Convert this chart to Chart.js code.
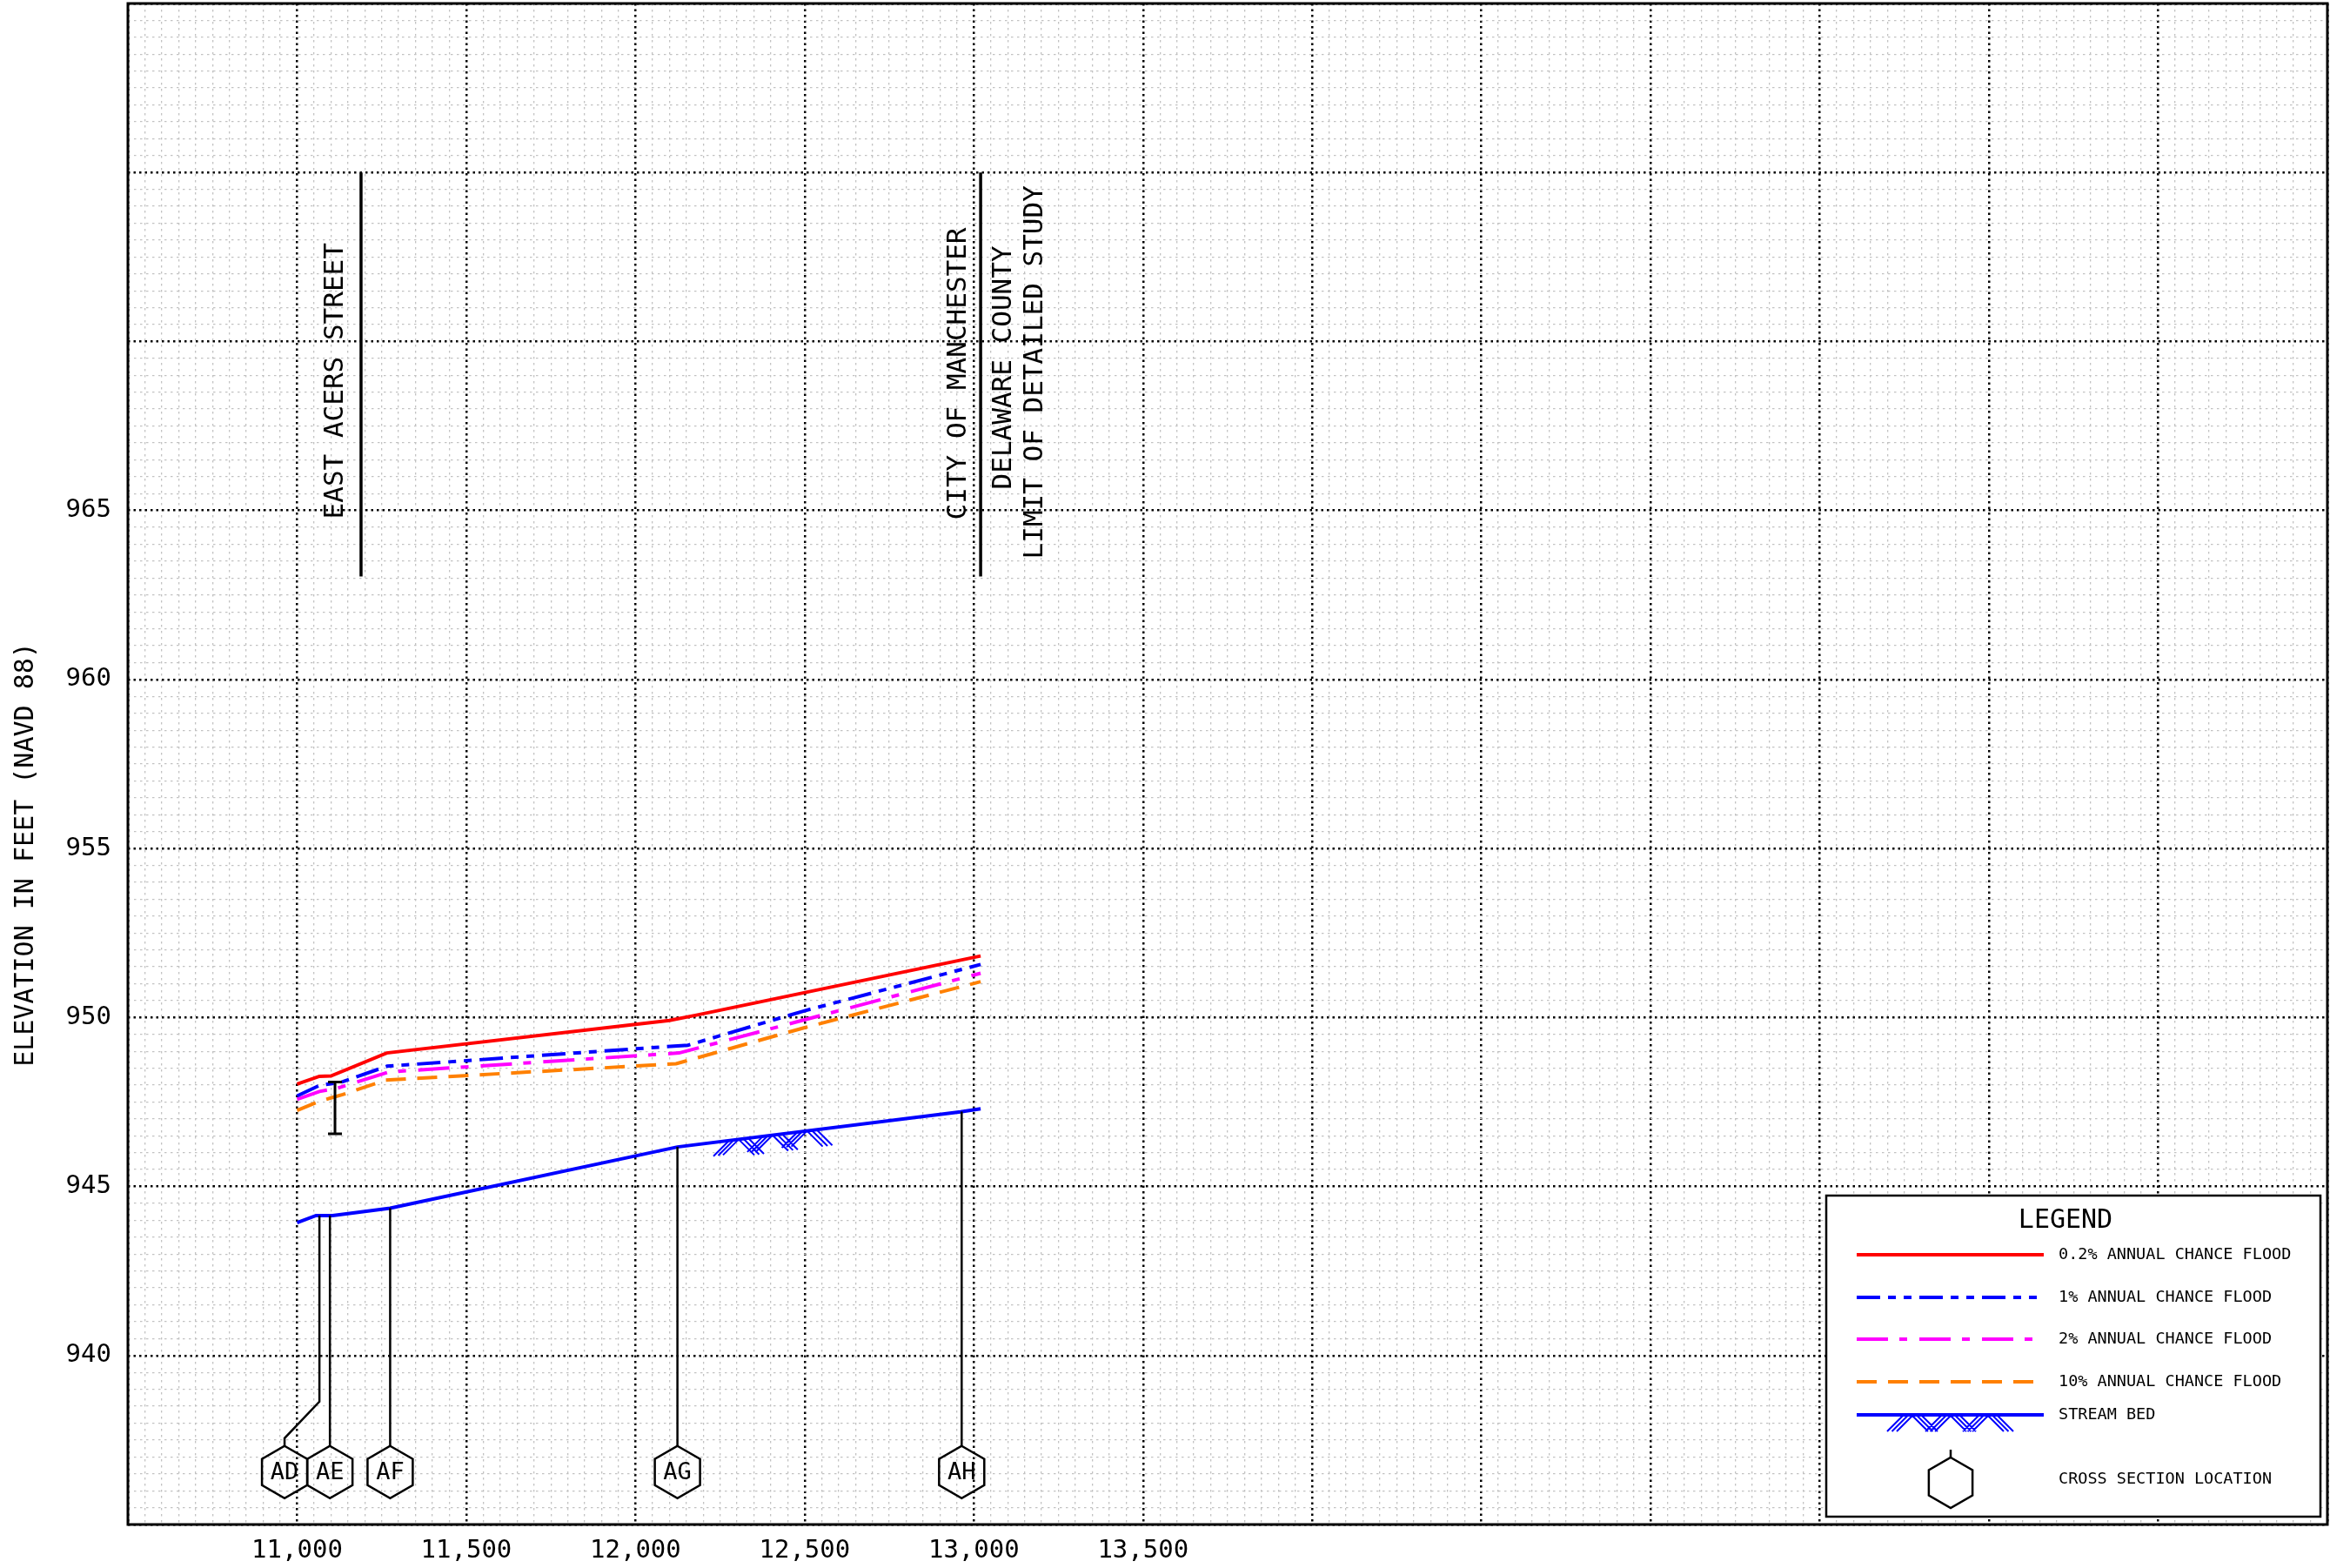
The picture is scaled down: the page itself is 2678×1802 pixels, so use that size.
<!DOCTYPE html>
<html>
<head>
<meta charset="utf-8">
<title>Flood profile</title>
<script src="https://cdn.jsdelivr.net/npm/chart.js@4.4.1/dist/chart.umd.min.js"></script>
<style>
  body { margin: 0; background: #fff; }
</style>
</head>
<body>
<canvas id="profile" width="2678" height="1802"></canvas>
<script>
// stream distance (ft) and elevation (ft NAVD 88)
const flood02_station = [11000, 11066, 11100, 11265, 12100, 12180, 13020];
const flood02_elev    = [948.03, 948.26, 948.27, 948.95, 949.91, 950.07, 951.82];

const flood1_station = [11000, 11066, 11100, 11135, 11266, 12155, 12500, 13020];
const flood1_elev    = [947.68, 947.99, 948.04, 948.10, 948.56, 949.18, 950.20, 951.57];

const flood2_station = [11000, 11066, 11116, 11272, 12129, 13020];
const flood2_elev    = [947.58, 947.81, 947.90, 948.39, 948.95, 951.31];

const flood10_station = [11000, 11066, 11100, 11135, 11262, 12120, 12500, 13020];
const flood10_elev    = [947.25, 947.52, 947.62, 947.72, 948.15, 948.63, 949.70, 951.06];

const bed_station = [11000, 11056, 11105, 11275, 12124, 12961, 13020];
const bed_elev    = [943.93, 944.14, 944.14, 944.36, 946.17, 947.21, 947.30];

// cross sections
const xsLabels = ['AD', 'AE', 'AF', 'AG', 'AH'];
const xsStations = [11066, 11097, 11275, 12124, 12964];
const xsTagStations = [10963, 11097, 11275, 12124, 12964];
const xsTagElev = 936.55;

// bridge opening at East Acers Street
const bridgeStation = 11112;
const bridgeTop = 948.09;
const bridgeBottom = 946.56;

// road crossing / study limit markers
const crossingStations = [11189, 13020];
const crossingTopElev = 975;
const crossingBottomElev = 963.05;
const crossingTexts = ['EAST ACERS STREET', 'CITY OF MANCHESTER', 'DELAWARE COUNTY', 'LIMIT OF DETAILED STUDY'];

// stream bed hatch symbol (apex stations)
const hatchApexes = [12305, 12405, 12507];

// axes
const xMin = 10500, xMax = 17000;
const yMin = 935, yMax = 980;
const xTickLabels = [11000, 11500, 12000, 12500, 13000, 13500];
const yTickLabels = [940, 945, 950, 955, 960, 965];
const yTitle = 'ELEVATION IN FEET (NAVD 88)';

const legendLabels = ['0.2% ANNUAL CHANCE FLOOD', '1% ANNUAL CHANCE FLOOD', '2% ANNUAL CHANCE FLOOD',
  '10% ANNUAL CHANCE FLOOD', 'STREAM BED', 'CROSS SECTION LOCATION'];

const FONT = '"DejaVu Sans Mono", "Liberation Mono", monospace';

const lineStyles = [
  { color: '#ff0000', dash: [] },
  { color: '#0000ff', dash: [27, 9, 9, 9, 9, 9] },
  { color: '#ff00ff', dash: [36, 13, 9, 14] },
  { color: '#ff8000', dash: [23, 13] },
  { color: '#0000ff', dash: [] },
];

function pts(st, el) {
  return st.map((s, i) => ({ x: s, y: el[i] }));
}

function bedAt(s) {
  for (let i = 1; i < bed_station.length; i++) {
    if (s <= bed_station[i]) {
      const t = (s - bed_station[i - 1]) / (bed_station[i] - bed_station[i - 1]);
      return bed_elev[i - 1] + t * (bed_elev[i] - bed_elev[i - 1]);
    }
  }
  return bed_elev[bed_elev.length - 1];
}

function isMajor(v, step) {
  return Math.abs(v / step - Math.round(v / step)) < 1e-6;
}

function hexagon(ctx, cx, cy, r) {
  ctx.beginPath();
  for (let k = 0; k < 6; k++) {
    const a = -Math.PI / 2 + k * Math.PI / 3;
    const px = cx + r * Math.cos(a), py = cy + r * Math.sin(a);
    if (k === 0) ctx.moveTo(px, py); else ctx.lineTo(px, py);
  }
  ctx.closePath();
  ctx.stroke();
}

// stream bed symbol: nested chevrons hanging under the bed line
// xs = apex pixels, yOf gives the bed pixel for an x pixel
function hatch(ctx, xs, yOf) {
  const d = 18, gap = 5.5;
  ctx.save();
  ctx.strokeStyle = '#0000ff';
  ctx.lineWidth = 2;
  ctx.setLineDash([]);
  ctx.beginPath();
  xs.forEach(ax => {
    for (let j = 0; j < 3; j++) {
      const l = ax - j * gap, r = ax + j * gap;
      ctx.moveTo(l, yOf(l));
      ctx.lineTo(l - d, yOf(l) + d);
      ctx.moveTo(r, yOf(r));
      ctx.lineTo(r + d, yOf(r) + d);
    }
  });
  ctx.stroke();
  ctx.restore();
}

const profileExtras = {
  id: 'profileExtras',
  afterDatasetsDraw(chart) {
    const { ctx, scales: { x, y } } = chart;
    ctx.save();
    ctx.setLineDash([]);

    // stream bed hatch
    hatch(ctx, hatchApexes.map(s => x.getPixelForValue(s)),
      px => y.getPixelForValue(bedAt(x.getValueForPixel(px))));

    // bridge opening
    const bx = x.getPixelForValue(bridgeStation);
    const bt = y.getPixelForValue(bridgeTop), bb = y.getPixelForValue(bridgeBottom);
    ctx.strokeStyle = '#000';
    ctx.lineWidth = 3;
    ctx.beginPath();
    ctx.moveTo(bx, bt); ctx.lineTo(bx, bb);
    ctx.moveTo(bx - 8, bt); ctx.lineTo(bx + 8, bt);
    ctx.moveTo(bx - 8, bb); ctx.lineTo(bx + 8, bb);
    ctx.stroke();

    // cross section leaders and tags
    const r = 30;
    const tagY = y.getPixelForValue(xsTagElev);
    ctx.lineWidth = 2.5;
    ctx.font = '27px ' + FONT;
    ctx.fillStyle = '#000';
    ctx.textAlign = 'center';
    ctx.textBaseline = 'middle';
    xsStations.forEach((s, i) => {
      const lx = x.getPixelForValue(s);
      const tx = x.getPixelForValue(xsTagStations[i]);
      ctx.beginPath();
      ctx.moveTo(lx, y.getPixelForValue(bedAt(s)));
      if (Math.abs(lx - tx) > 1) {
        ctx.lineTo(lx, tagY - 81);
        ctx.lineTo(tx, tagY - 39);
      }
      ctx.lineTo(tx, tagY - r);
      ctx.stroke();
      hexagon(ctx, tx, tagY, r);
      ctx.fillText(xsLabels[i], tx, tagY + 1);
    });

    // road crossing and limit of study
    const topPx = y.getPixelForValue(crossingTopElev);
    const botPx = y.getPixelForValue(crossingBottomElev);
    ctx.lineWidth = 3.5;
    const bars = crossingStations.map(s => x.getPixelForValue(s));
    bars.forEach(px => {
      ctx.beginPath();
      ctx.moveTo(px, topPx); ctx.lineTo(px, botPx);
      ctx.stroke();
    });
    const textPlaces = [
      [bars[0] - 29, botPx - 66],
      [bars[1] - 25, botPx - 65],
      [bars[1] + 27, botPx - 100],
      [bars[1] + 63, botPx - 20],
    ];
    ctx.font = '31px ' + FONT;
    ctx.textAlign = 'left';
    crossingTexts.forEach((t, i) => {
      ctx.save();
      ctx.translate(textPlaces[i][0], textPlaces[i][1]);
      ctx.rotate(-Math.PI / 2);
      ctx.fillText(t, 0, 0);
      ctx.restore();
    });
    ctx.restore();
  },
  afterDraw(chart) {
    const { ctx, chartArea: ca } = chart;
    ctx.save();
    ctx.setLineDash([]);

    // legend box
    const w = 568, h = 369;
    const L = ca.right - 8 - w, T = ca.bottom - 9 - h;
    ctx.fillStyle = '#fff';
    ctx.fillRect(L, T, w, h);
    ctx.strokeStyle = '#000';
    ctx.lineWidth = 2.5;
    ctx.strokeRect(L, T, w, h);

    ctx.fillStyle = '#000';
    ctx.textBaseline = 'middle';
    ctx.textAlign = 'center';
    ctx.font = '30px ' + FONT;
    ctx.fillText('LEGEND', L + 275, T + 29);

    const rows = [68, 117, 165, 214, 252];
    ctx.textAlign = 'left';
    ctx.font = '18.5px ' + FONT;
    rows.forEach((ry, i) => {
      ctx.strokeStyle = lineStyles[i].color;
      ctx.lineWidth = 4;
      ctx.setLineDash(lineStyles[i].dash);
      ctx.beginPath();
      ctx.moveTo(L + 35, T + ry);
      ctx.lineTo(L + 250, T + ry);
      ctx.stroke();
      ctx.fillText(legendLabels[i], L + 267, T + ry);
    });
    ctx.setLineDash([]);
    hatch(ctx, [L + 99, L + 143, L + 186], () => T + 253);

    ctx.strokeStyle = '#000';
    ctx.lineWidth = 2.5;
    ctx.beginPath();
    ctx.moveTo(L + 143, T + 292);
    ctx.lineTo(L + 143, T + 301);
    ctx.stroke();
    hexagon(ctx, L + 143, T + 330, 29);
    ctx.fillText(legendLabels[5], L + 267, T + 326);

    // plot frame
    ctx.lineWidth = 3;
    ctx.strokeRect(ca.left, ca.top, ca.right - ca.left, ca.bottom - ca.top);

    // y axis title
    ctx.font = '30px ' + FONT;
    ctx.textAlign = 'center';
    ctx.translate(30, 982);
    ctx.rotate(-Math.PI / 2);
    ctx.fillText(yTitle, 0, 0);
    ctx.restore();
  }
};

const datasets = [
  pts(flood02_station, flood02_elev),
  pts(flood1_station, flood1_elev),
  pts(flood2_station, flood2_elev),
  pts(flood10_station, flood10_elev),
  pts(bed_station, bed_elev),
].map((d, i) => ({
  label: legendLabels[i],
  data: d,
  borderColor: lineStyles[i].color,
  borderDash: lineStyles[i].dash,
  borderWidth: 4,
  pointRadius: 0,
  fill: false,
  tension: 0,
}));

function gridSetup(step) {
  return {
    grid: {
      drawTicks: false,
      color: c => isMajor(c.tick.value, step) ? '#000' : '#c2c2c2',
      lineWidth: c => isMajor(c.tick.value, step) ? 2.5 : 1.3,
    },
    border: {
      display: false,
      dash: c => (c.tick && isMajor(c.tick.value, step)) ? [2.5, 4] : [2.5, 4.5],
    },
  };
}

const chart = new Chart(document.getElementById('profile').getContext('2d'), {
  type: 'line',
  data: { datasets },
  options: {
    responsive: false,
    animation: false,
    events: [],
    layout: { padding: { top: 4, right: 3, left: 0, bottom: 0 } },
    plugins: {
      legend: { display: false },
      tooltip: { enabled: false },
    },
    scales: {
      x: {
        type: 'linear',
        min: xMin,
        max: xMax,
        ...gridSetup(500),
        ticks: {
          stepSize: 50,
          autoSkip: false,
          maxRotation: 0,
          minRotation: 0,
          padding: 13,
          color: '#000',
          font: { family: FONT, size: 29 },
          callback: v => xTickLabels.includes(v) ? v.toLocaleString('en-US') : '',
        },
        afterFit: s => {
          s.height = 50;
          s.paddingLeft = s.paddingRight = s.paddingTop = s.paddingBottom = 0;
        },
      },
      y: {
        type: 'linear',
        min: yMin,
        max: yMax,
        ...gridSetup(5),
        ticks: {
          stepSize: 0.5,
          autoSkip: false,
          padding: 19,
          color: '#000',
          font: { family: FONT, size: 29 },
          callback: v => yTickLabels.includes(v) ? String(v) : '',
        },
        afterFit: s => {
          s.width = 147;
          s.paddingLeft = s.paddingRight = s.paddingTop = s.paddingBottom = 0;
        },
      },
    },
  },
  plugins: [profileExtras],
});
</script>
</body>
</html>
